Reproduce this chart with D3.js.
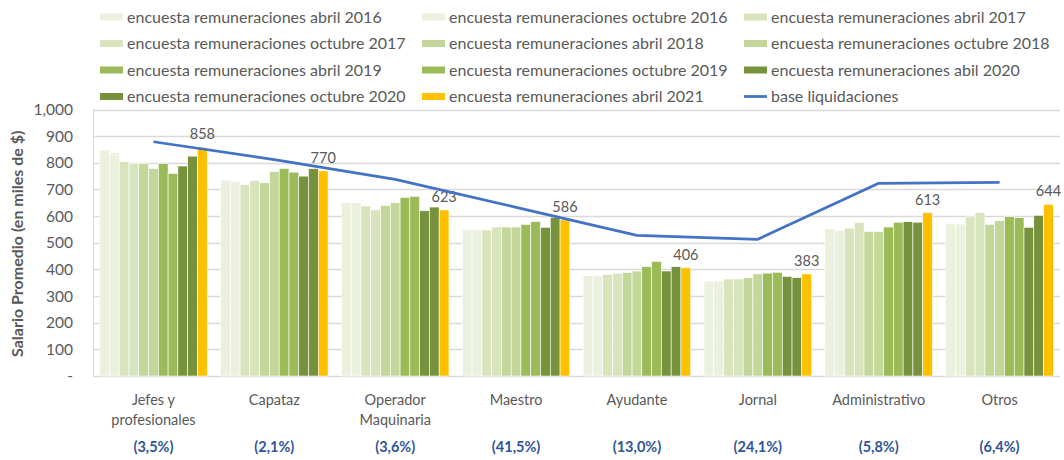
<!DOCTYPE html>
<html>
<head>
<meta charset="utf-8">
<script src="https://cdn.jsdelivr.net/npm/d3@7"></script>
<style>
  body { margin: 0; background: #fff; }
  svg { display: block; font-family: Lato, "Open Sans", sans-serif; }
</style>
</head>
<body>
<script>
var width = 1064;
var height = 460;

var categories = ["Jefes y|profesionales", "Capataz", "Operador|Maquinaria", "Maestro", "Ayudante", "Jornal", "Administrativo", "Otros"];
var shares = ["(3,5%)", "(2,1%)", "(3,6%)", "(41,5%)", "(13,0%)", "(24,1%)", "(5,8%)", "(6,4%)"];

var seriesNames = [
    "encuesta remuneraciones abril 2016",
    "encuesta remuneraciones octubre 2016",
    "encuesta remuneraciones abril 2017",
    "encuesta remuneraciones octubre 2017",
    "encuesta remuneraciones abril 2018",
    "encuesta remuneraciones octubre 2018",
    "encuesta remuneraciones abril 2019",
    "encuesta remuneraciones octubre 2019",
    "encuesta remuneraciones abil 2020",
    "encuesta remuneraciones octubre 2020",
    "encuesta remuneraciones abril 2021"
];
var lineName = "base liquidaciones";

// one array per survey, values per category (miles de $)
var abr2016 = [848, 735, 650, 550, 376, 356, 552, 573];
var oct2016 = [838, 730, 650, 550, 376, 356, 545, 570];
var abr2017 = [804, 718, 638, 548, 381, 364, 555, 597];
var oct2017 = [798, 734, 623, 559, 385, 364, 575, 613];
var abr2018 = [798, 725, 640, 559, 388, 369, 542, 569];
var oct2018 = [779, 767, 650, 559, 394, 383, 542, 583];
var abr2019 = [798, 779, 670, 569, 410, 386, 559, 598];
var oct2019 = [760, 765, 674, 579, 430, 389, 577, 594];
var abr2020 = [788, 750, 620, 558, 394, 374, 579, 558];
var oct2020 = [825, 778, 634, 595, 410, 369, 577, 603];
var abr2021 = [858, 770, 623, 586, 406, 383, 613, 644];
var baseLiquidaciones = [879, 812, 738, 633, 528, 513, 723, 727];

var seriesValues = [abr2016, oct2016, abr2017, oct2017, abr2018, oct2018, abr2019, oct2019, abr2020, oct2020, abr2021];
var colors = ["#EBF1DE", "#EBF1DE", "#D8E4BC", "#D8E4BC", "#C4D79B", "#C4D79B", "#9BBB59", "#9BBB59", "#76923C", "#76923C", "#FFC000"];
var lineColor = "#4472C4";

var yTicks = [0, 100, 200, 300, 400, 500, 600, 700, 800, 900, 1000];

var plot = {left: 93, right: 1060, top: 109.5, bottom: 376};

var svg = d3.select("body").append("svg")
    .attr("width", width)
    .attr("height", height);

var x0 = d3.scaleBand()
    .domain(d3.range(categories.length))
    .range([plot.left, plot.right])
    .paddingInner(0.11)
    .paddingOuter(0.055);

var x1 = d3.scaleBand()
    .domain(d3.range(seriesNames.length))
    .range([0, x0.bandwidth()]);

var y = d3.scaleLinear()
    .domain([0, 1000])
    .range([plot.bottom, plot.top]);

// gridlines
svg.append("g")
    .selectAll("line")
    .data(yTicks)
    .join("line")
    .attr("x1", plot.left)
    .attr("x2", plot.right)
    .attr("y1", function(d){ return Math.round(y(d)) + 0.5; })
    .attr("y2", function(d){ return Math.round(y(d)) + 0.5; })
    .attr("stroke", "#D9D9D9")
    .attr("stroke-width", 1.3);

svg.append("line")
    .attr("x1", plot.left + 0.5).attr("x2", plot.left + 0.5)
    .attr("y1", y(1000)).attr("y2", y(0))
    .attr("stroke", "#D9D9D9");

// y axis labels
var yAxis = d3.axisLeft(y)
    .tickValues(yTicks)
    .tickSize(0)
    .tickPadding(20)
    .tickFormat(function(d){ return d === 0 ? "-" : d3.format(",")(d); });

var ya = svg.append("g")
    .attr("transform", "translate(" + plot.left + ",0)")
    .call(yAxis);
ya.select(".domain").remove();
ya.selectAll("text")
    .attr("fill", "#595959")
    .style("font-size", "15.5px")
    .style("font-family", "Lato, sans-serif");

svg.append("text")
    .attr("transform", "translate(23," + ((plot.top + plot.bottom) / 2 + 1) + ") rotate(-90)")
    .attr("text-anchor", "middle")
    .attr("fill", "#595959")
    .style("font-size", "16px")
    .style("font-weight", "bold")
    .text("Salario Promedio (en miles de $)");

// bars
var groups = svg.append("g")
    .selectAll("g")
    .data(categories)
    .join("g")
    .attr("transform", function(d, i){ return "translate(" + x0(i) + ",0)"; });

groups.selectAll("rect")
    .data(function(d, i){
        return seriesValues.map(function(vals, s){ return {s: s, v: vals[i]}; });
    })
    .join("rect")
    .attr("x", function(d){ return x1(d.s); })
    .attr("width", x1.bandwidth())
    .attr("y", function(d){ return y(d.v); })
    .attr("height", function(d){ return y(0) - y(d.v); })
    .attr("fill", function(d){ return colors[d.s]; })
    .attr("stroke", "#fff")
    .attr("stroke-width", 0.6);

// data labels on last survey
var last = seriesValues.length - 1;
svg.append("g")
    .selectAll("text")
    .data(abr2021)
    .join("text")
    .attr("x", function(d, i){ return x0(i) + x1(last) + x1.bandwidth() / 2; })
    .attr("y", function(d){ return y(d) - 8; })
    .attr("text-anchor", "middle")
    .attr("fill", "#595959")
    .style("font-size", "14.5px")
    .text(function(d){ return d; });

// base liquidaciones line
var line = d3.line()
    .x(function(d, i){ return x0(i) + x0.bandwidth() / 2; })
    .y(function(d){ return y(d); });

svg.append("path")
    .datum(baseLiquidaciones)
    .attr("d", line)
    .attr("fill", "none")
    .attr("stroke", lineColor)
    .attr("stroke-width", 2.75)
    .attr("stroke-linejoin", "round");

// category labels
var cat = svg.append("g")
    .selectAll("text")
    .data(categories)
    .join("text")
    .attr("x", function(d, i){ return x0(i) + x0.bandwidth() / 2; })
    .attr("y", 405)
    .attr("text-anchor", "middle")
    .attr("fill", "#595959")
    .style("font-size", "14.5px");

cat.selectAll("tspan")
    .data(function(d){ return d.split("|"); })
    .join("tspan")
    .attr("x", function(){ return this.parentNode.getAttribute("x"); })
    .attr("dy", function(d, i){ return i === 0 ? 0 : 20; })
    .text(function(d){ return d; });

svg.append("g")
    .selectAll("text")
    .data(shares)
    .join("text")
    .attr("x", function(d, i){ return x0(i) + x0.bandwidth() / 2; })
    .attr("y", 452)
    .attr("text-anchor", "middle")
    .attr("fill", "#2F5597")
    .style("font-size", "14.5px")
    .style("font-weight", "bold")
    .text(function(d){ return d; });

// legend, 3 columns
var legendItems = seriesNames.map(function(n, i){ return {name: n, color: colors[i], line: false}; });
legendItems.push({name: lineName, color: lineColor, line: true});

var colX = [100, 422, 744];
var rowY = [17, 43.5, 70, 96.5];

var legend = svg.append("g")
    .selectAll("g")
    .data(legendItems)
    .join("g")
    .attr("transform", function(d, i){
        return "translate(" + colX[i % 3] + "," + rowY[Math.floor(i / 3)] + ")";
    });

legend.each(function(d){
    var g = d3.select(this);
    if (d.line) {
        g.append("line")
            .attr("x1", 0).attr("x2", 23)
            .attr("y1", 0).attr("y2", 0)
            .attr("stroke", d.color)
            .attr("stroke-width", 2.75);
    } else {
        g.append("rect")
            .attr("x", 0).attr("y", -3.5)
            .attr("width", 23).attr("height", 7)
            .attr("fill", d.color);
    }
});

legend.append("text")
    .attr("x", 27)
    .attr("y", 5.5)
    .attr("fill", "#595959")
    .style("font-size", "16px")
    .text(function(d){ return d.name; });
</script>
</body>
</html>
